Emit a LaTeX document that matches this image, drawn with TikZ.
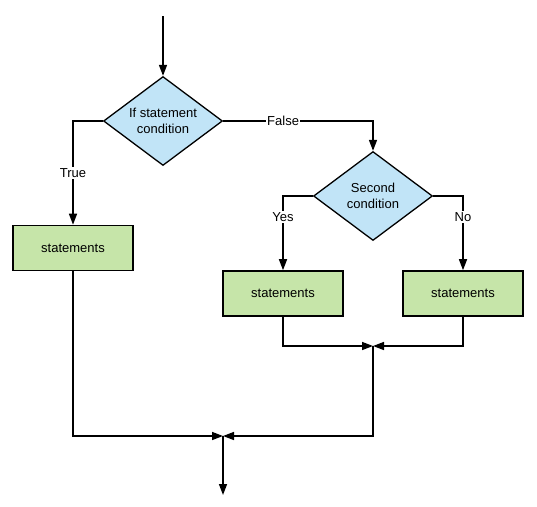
\documentclass[tikz,border=0pt]{standalone}
\usepackage{fontspec}
\setmainfont{Liberation Sans}
\usetikzlibrary{shapes.geometric,arrows.meta}
\definecolor{condblue}{HTML}{C1E4F7}
\definecolor{stmtgreen}{HTML}{C6E5A9}
\begin{document}
\begin{tikzpicture}[x=1pt, y=-1pt,
  every node/.style={font=\fontsize{13}{16}\selectfont},
  cond/.style={diamond, draw, line width=1.3pt, fill=condblue, aspect=1.34,
    minimum width=119pt, minimum height=89pt, inner sep=0pt, align=center},
  stmt/.style={rectangle, draw, line width=1.6pt, fill=stmtgreen,
    minimum width=120pt, minimum height=45pt},
  flow/.style={line width=1.5pt, -{Triangle[width=8pt,length=11pt]}},
  lbl/.style={fill=white, inner sep=1.5pt}]
\useasboundingbox (0,0) rectangle (537,506);
\coordinate (start) at (163,16);
\node[cond] (d1) at (163,121){If statement\\condition};
\node[cond] (d2) at (373,196){Second\\condition};
\node[stmt] (b1) at (73,248){statements};
\node[stmt] (b2) at (283,293.5){statements};
\node[stmt] (b3) at (463,293.5){statements};
\coordinate (m1) at (373,346);
\coordinate (m2) at (223,436);
\coordinate (finish) at (223,495);
\draw[flow] (start) -- (d1.north);
\draw[flow] (d1.west) -| node[lbl, pos=0.75]{True} (b1.north);
\draw[flow] (d1.east) -| node[lbl, pos=0.2]{False} (d2.north);
\draw[flow] (d2.west) -| node[lbl, pos=0.64]{Yes} (b2.north);
\draw[flow] (d2.east) -| node[lbl, pos=0.64]{No} (b3.north);
\draw[flow] (b2.south) |- (m1);
\draw[flow] (b3.south) |- (m1);
\draw[flow] (m1) |- (m2);
\draw[flow] (b1.south) |- (m2);
\draw[flow] (m2) -- (finish);

\end{tikzpicture}
\end{document}
